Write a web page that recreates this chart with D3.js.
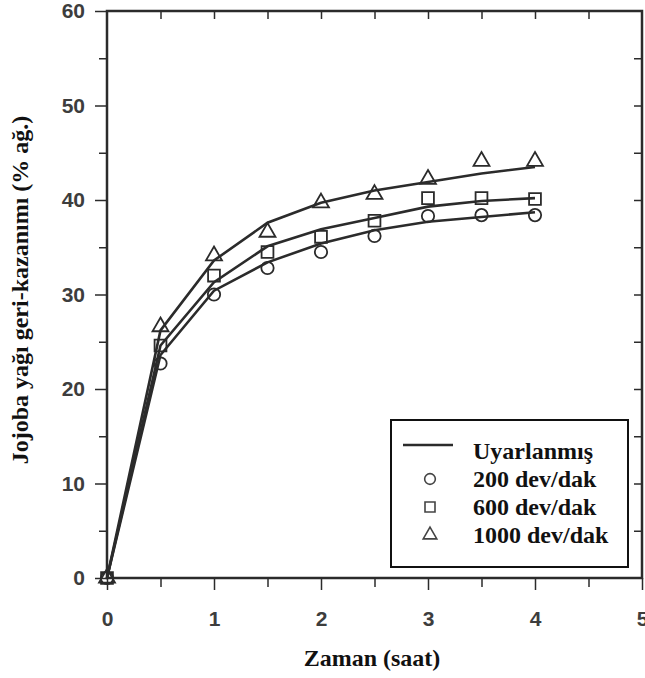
<!DOCTYPE html>
<html lang="tr">
<head>
<meta charset="UTF-8">
<title>Jojoba</title>
<style>
  body { margin: 0; background: #fff; }
</style>
</head>
<body>
<svg id="chart" width="645" height="678"></svg>
<script src="https://cdn.jsdelivr.net/npm/d3@7/dist/d3.min.js"></script>
<script>
// time (h)
var times = [0, 0.5, 1, 1.5, 2, 2.5, 3, 3.5, 4];
// measured recovery (% wt)
var rpm200 = [0, 22.7, 30.0, 32.8, 34.5, 36.2, 38.3, 38.4, 38.4];
var rpm600 = [0, 24.6, 32.0, 34.5, 36.1, 37.8, 40.2, 40.2, 40.1];
var rpm1000 = [0, 26.6, 34.1, 36.6, 39.7, 40.6, 42.2, 44.1, 44.1];
// fitted (Uyarlanmış) curves
var fit200 = [0, 23.6, 30.4, 33.4, 35.4, 36.8, 37.7, 38.2, 38.7];
var fit600 = [0, 24.6, 31.3, 35.1, 36.9, 38.1, 39.3, 39.9, 40.2];
var fit1000 = [0, 26.2, 33.6, 37.6, 39.7, 41.0, 41.9, 42.8, 43.5];

var xTicks = [0, 1, 2, 3, 4, 5];
var yTicks = [0, 10, 20, 30, 40, 50, 60];
var legendLabels = ["Uyarlanmış", "200 dev/dak", "600 dev/dak", "1000 dev/dak"];

var ink = "#2b2b2b";
var serif = "'Liberation Serif', 'Times New Roman', serif";
var svg = d3.select("#chart");
var pLeft = 107, pRight = 642, pTop = 11, pBottom = 578;

var x = d3.scaleLinear().domain([0, 5]).range([pLeft, pRight]);
var y = d3.scaleLinear().domain([0, 60]).range([pBottom, pTop]);

// frame
svg.append("rect")
    .attr("x", pLeft).attr("y", pTop)
    .attr("width", pRight - pLeft).attr("height", pBottom - pTop)
    .attr("fill", "none").attr("stroke", ink).attr("stroke-width", 2.5);

var tickFont = g => g.selectAll("text")
    .attr("font-family", "Arial, 'Liberation Sans', sans-serif")
    .attr("font-weight", "bold").attr("font-size", 21).attr("fill", "#3d3d3d");

// bottom axis, minor then major
svg.append("g").attr("transform", `translate(0,${pBottom})`)
    .call(d3.axisBottom(x).tickValues(d3.range(0.5, 5, 1)).tickSize(9).tickFormat(""))
    .call(g => g.select(".domain").remove());
svg.append("g").attr("transform", `translate(0,${pBottom})`)
    .call(d3.axisBottom(x).tickValues(xTicks).tickSize(12).tickPadding(21).tickFormat(d3.format("d")))
    .call(g => g.select(".domain").remove())
    .call(tickFont);

// left axis
svg.append("g").attr("transform", `translate(${pLeft},0)`)
    .call(d3.axisLeft(y).tickValues(d3.range(5, 60, 10)).tickSize(8).tickFormat(""))
    .call(g => g.select(".domain").remove());
svg.append("g").attr("transform", `translate(${pLeft},0)`)
    .call(d3.axisLeft(y).tickValues(yTicks).tickSize(12).tickPadding(10).tickFormat(d3.format("d")))
    .call(g => g.select(".domain").remove())
    .call(tickFont);

// top and right inner ticks
svg.append("g").attr("transform", `translate(0,${pTop})`)
    .call(d3.axisBottom(x).tickValues(d3.range(0.5, 5, 0.5)).tickSize(8).tickFormat(""))
    .call(g => g.select(".domain").remove());
svg.append("g").attr("transform", `translate(${pRight},0)`)
    .call(d3.axisLeft(y).tickValues(d3.range(5, 60, 5)).tickSize(8).tickFormat(""))
    .call(g => g.select(".domain").remove());

svg.selectAll(".tick line").attr("stroke", ink).attr("stroke-width", 1.5);

// fitted lines
var line = d3.line().x((d, i) => x(times[i])).y(d => y(d));
svg.append("g").selectAll("path")
    .data([fit200, fit600, fit1000])
    .join("path")
    .attr("d", line)
    .attr("fill", "none").attr("stroke", ink).attr("stroke-width", 2.6);

// markers
var circleSym = d3.symbol().type(d3.symbolCircle).size(120);
var squareSym = d3.symbol().type(d3.symbolSquare).size(140);
var triSym = d3.symbol().type(d3.symbolTriangle).size(110);

function drawPoints(vals, sym) {
    svg.append("g").selectAll("path")
        .data(vals)
        .join("path")
        .attr("transform", (d, i) => `translate(${x(times[i])},${y(d)})`)
        .attr("d", sym)
        .attr("fill", "none").attr("stroke", ink).attr("stroke-width", 1.8);
}
drawPoints(rpm200, circleSym);
drawPoints(rpm600, squareSym);
drawPoints(rpm1000, triSym);

// legend
var lg = svg.append("g").attr("transform", "translate(391,420)");
lg.append("rect").attr("width", 237).attr("height", 147)
    .attr("fill", "#fff").attr("stroke", "#111").attr("stroke-width", 2);
lg.append("line").attr("x1", 12).attr("x2", 62).attr("y1", 25).attr("y2", 25)
    .attr("stroke", ink).attr("stroke-width", 2.6);
var legSyms = [null, d3.symbol().type(d3.symbolCircle).size(90),
    d3.symbol().type(d3.symbolSquare).size(100), d3.symbol().type(d3.symbolTriangle).size(80)];
legendLabels.forEach(function (t, i) {
    var base = 39 + i * 28;
    if (legSyms[i]) {
        lg.append("path").attr("transform", `translate(39,${base - 8})`).attr("d", legSyms[i])
            .attr("fill", "none").attr("stroke", "#444").attr("stroke-width", 1.6);
    }
    lg.append("text").attr("x", 82).attr("y", base)
        .attr("font-family", serif)
        .attr("font-weight", "bold").attr("font-size", 24).attr("fill", "#111")
        .text(t);
});

// axis titles
svg.append("text").attr("x", 372).attr("y", 666)
    .attr("text-anchor", "middle")
    .attr("font-family", serif)
    .attr("font-weight", "bold").attr("font-size", 24).attr("fill", "#111")
    .text("Zaman (saat)");
svg.append("text")
    .attr("transform", "translate(28,290) rotate(-90)")
    .attr("text-anchor", "middle")
    .attr("font-family", serif)
    .attr("font-weight", "bold").attr("font-size", 24).attr("fill", "#111")
    .text("Jojoba yağı geri-kazanımı (% ağ.)");
</script>
</body>
</html>
